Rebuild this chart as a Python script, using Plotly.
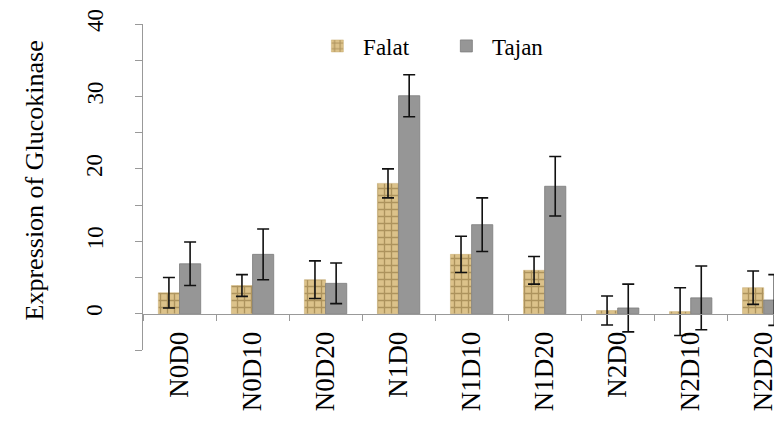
import plotly.graph_objects as go

categories = ["N0D0", "N0D10", "N0D20", "N1D0", "N1D10", "N1D20", "N2D0", "N2D10", "N2D20"]
falat = [2.9, 3.9, 4.7, 18.0, 8.2, 6.0, 0.45, 0.3, 3.6]
falat_err = [2.1, 1.5, 2.6, 2.0, 2.5, 1.9, 2.0, 3.3, 2.3]
tajan = [6.9, 8.2, 4.2, 30.1, 12.3, 17.6, 0.8, 2.2, 1.9]
tajan_err = [3.0, 3.5, 2.8, 2.9, 3.7, 4.1, 3.3, 4.4, 3.5]
ytick_vals = [-5, 0, 5, 10, 15, 20, 25, 30, 35, 40]
ytick_text = ["", "0", "", "10", "", "20", "", "30", "", "40"]

FONT = "Liberation Serif"


def serif(label):
    return f"<span style='font-family:\"Liberation Serif\", serif'>&nbsp;{label}</span>"


fig = go.Figure()
fig.add_trace(go.Bar(
    name=serif("Falat"), x=categories, y=falat,
    marker=dict(color="#d6b977",
                pattern=dict(shape="+", fgcolor="#7d6330", bgcolor="#dcc28a", size=7, solidity=0.35),
                line=dict(color="#c9ad70", width=0.5)),
    error_y=dict(type="data", array=falat_err, visible=True, color="#111111", thickness=1.6, width=6),
))
fig.add_trace(go.Bar(
    name=serif("Tajan"), x=categories, y=tajan,
    marker=dict(color="#969696", line=dict(color="#7c7c7c", width=0.8)),
    error_y=dict(type="data", array=tajan_err, visible=True, color="#111111", thickness=1.6, width=6),
))

annotations = [dict(
    text="Expression of Glucokinase", textangle=-90,
    xref="paper", yref="paper", x=-0.167, y=0.52,
    xanchor="center", yanchor="middle", showarrow=False,
    font=dict(family=FONT, size=26, color="black"),
)]
for v, t in zip(ytick_vals, ytick_text):
    if t:
        annotations.append(dict(
            text=t, textangle=-90, xref="paper", yref="y", x=-0.0742, y=v,
            xanchor="center", yanchor="middle", showarrow=False, yshift=4,
            font=dict(family=FONT, size=23, color="black"),
        ))

fig.update_layout(
    width=782, height=423,
    margin=dict(l=135, r=0, t=16, b=81),
    paper_bgcolor="white", plot_bgcolor="white",
    barmode="group", bargap=0.42, bargroupgap=0.0,
    font=dict(family=FONT, size=23, color="black"),
    showlegend=True,
    legend=dict(orientation="h", x=0.2695, xanchor="left", y=0.9326, yanchor="middle",
                font=dict(family=FONT, size=23, color="black"),
                entrywidth=84, entrywidthmode="pixels", bgcolor="rgba(0,0,0,0)"),
    xaxis=dict(
        range=[-0.5, 8.36], anchor="free", position=0.1104,
        showline=True, linecolor="#999999", linewidth=1,
        ticks="outside", tickson="boundaries", ticklen=6, tickcolor="#999999",
        tickangle=-90, tickfont=dict(family=FONT, size=27, color="black"),
        ticklabelstandoff=6,
        showgrid=False, zeroline=False, automargin=False,
    ),
    yaxis=dict(
        range=[-5, 40], tickvals=ytick_vals, showticklabels=False,
        showline=True, linecolor="#999999", linewidth=1,
        ticks="outside", ticklen=7, tickcolor="#999999",
        showgrid=False, zeroline=False, automargin=False,
    ),
    annotations=annotations,
)

fig.write_html("out.html")
